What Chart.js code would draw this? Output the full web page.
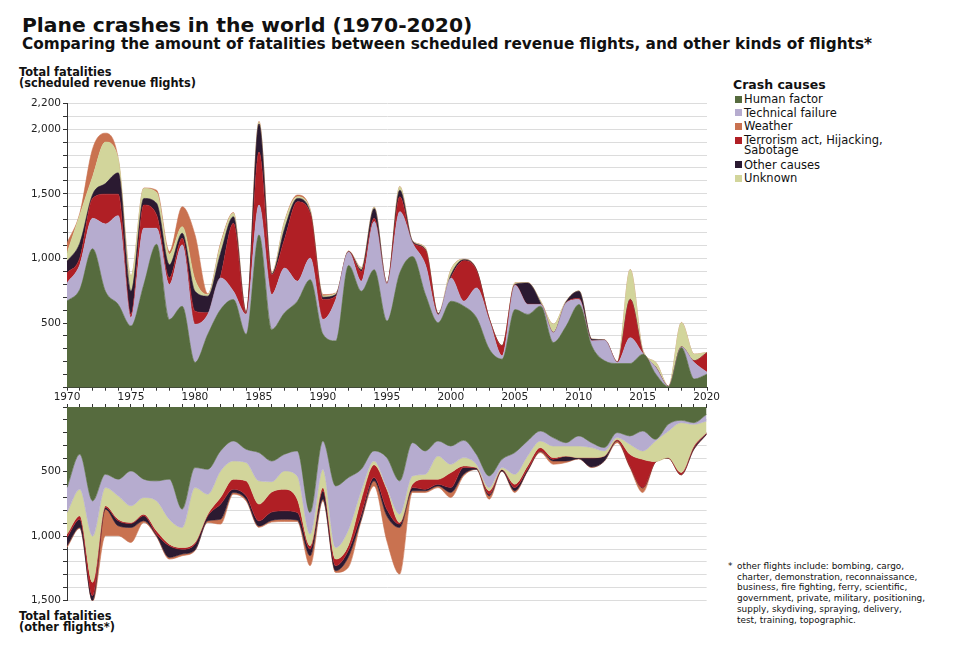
<!DOCTYPE html>
<html><head><meta charset="utf-8">
<script src="https://cdn.jsdelivr.net/npm/chart.js@4.4.0/dist/chart.umd.min.js"></script>
<style>
body{margin:0;background:#fff;width:960px;height:655px;position:relative;overflow:hidden;font-family:"DejaVu Sans",sans-serif;color:#111}
.t{position:absolute;white-space:nowrap}
.b{font-weight:bold}
.cv{position:absolute;left:0}
.lg{position:absolute;left:733px;font-size:11.5px;line-height:10px}
.lg .sw{position:absolute;left:2px;width:7px;height:7px}
.lg .tx{position:absolute;left:11px;white-space:nowrap}
</style></head><body>
<div class="t b" style="left:22px;top:13px;font-size:20.3px">Plane crashes in the world (1970-2020)</div>
<div class="t b" style="left:22px;top:35px;font-size:15.3px">Comparing the amount of fatalities between scheduled revenue flights, and other kinds of flights*</div>
<div class="t b" style="left:19px;top:67px;font-size:11.4px;line-height:11px">Total fatalities<br>(scheduled revenue flights)</div>
<div class="t b" style="left:19px;top:611px;font-size:11.4px;line-height:11px">Total fatalities<br>(other flights*)</div>
<div class="t b" style="left:733px;top:77px;font-size:12.5px">Crash causes</div>
<div id="legend"></div>
<div class="t" style="left:728px;top:561px;font-size:8.9px;line-height:10.7px">*</div>
<div class="t" style="left:737px;top:561px;font-size:8.9px;line-height:10.7px">other flights include: bombing, cargo,<br>charter, demonstration, reconnaissance,<br>business, fire fighting, ferry, scientific,<br>government, private, military, positioning,<br>supply, skydiving, spraying, delivery,<br>test, training, topographic.</div>
<div class="cv" style="top:95px"><canvas id="c1" width="720" height="301"></canvas></div>
<div class="cv" style="top:391px"><canvas id="c2" width="720" height="218"></canvas></div>
<script>
const years = [1970,1971,1972,1973,1974,1975,1976,1977,1978,1979,1980,1981,1982,1983,1984,1985,1986,1987,1988,1989,1990,1991,1992,1993,1994,1995,1996,1997,1998,1999,2000,2001,2002,2003,2004,2005,2006,2007,2008,2009,2010,2011,2012,2013,2014,2015,2016,2017,2018,2019,2020];

const causes = ['Human factor','Technical failure','Weather','Terrorism act, Hijacking, Sabotage','Other causes','Unknown'];
const causeColors = ['#566b3e','#b6accf','#c97250','#b01f25','#2b1a31','#d2d59b'];

// Scheduled revenue flights (fatalities per year)
const schedHuman   = [669,760,1075,746,644,477,797,1110,528,630, 195,413,605,682,413,1182,451,580,669,836, 413,362,946,746,913,515,887,1015,721,503, 669,631,541,297,221,605,567,631,349,477, 644,323,208,187,187,259,105,8,310,67, 105];
const schedTech    = [141,191,235,521,687,64,436,123,269,475, 295,154,244,64,154,231,269,345,154,167, 115,320,103,77,372,288,475,103,230,59, 180,38,231,218,25,187,77,13,77,179, 38,39,159,8,200,5,51,2,5,128, 15];
const schedTerror  = [77,52,154,230,166,26,180,103,52,51, 102,13,13,526,8,410,154,225,615,346, 154,26,3,77,25,2,115,2,116,2, 2,313,133,13,77,5,2,1,1,1, 8,1,1,2,295,2,1,0,1,13, 150];
const schedOther   = [90,115,31,82,165,179,51,90,102,39, 154,128,179,51,5,218,6,80,26,8, 18,12,2,13,77,1,51,11,3,8, 23,8,5,2,2,3,164,11,1,7, 56,11,1,1,2,1,1,0,1,1, 1];
const schedUnknown = [64,218,136,321,110,116,77,84,82,51, 90,12,64,26,3,13,7,55,13,17, 10,8,2,13,8,1,26,3,10,2, 39,2,2,2,2,10,2,13,62,6, 2,2,1,2,229,18,37,2,186,50, 1];
const schedWeather = [77,13,218,69,0,0,4,18,21,154, 346,6,13,6,2,6,3,5,13,6, 10,5,2,4,3,1,3,2,3,1, 2,2,1,1,1,2,1,1,1,1, 1,1,1,1,2,1,1,0,2,1, 1];

// Other flights (fatalities per year)
const otherHuman   = [624,366,727,521,559,495,559,572,559,791, 469,482,340,263,327,353,418,366,340,817, 263,611,546,482,340,392,572,276,340,263, 302,258,366,534,405,353,263,186,237,276, 224,276,314,198,224,186,250,134,103,121, 57];
const otherTech    = [193,271,273,103,129,270,142,155,310,142, 155,193,155,155,103,219,160,129,194,168, 219,477,404,167,78,232,258,258,181,116, 141,134,77,90,64,168,116,77,65,26, 78,38,26,39,65,154,13,52,18,13, 51];
const otherUnknown = [168,206,358,141,181,129,129,232,193,155, 425,155,206,141,142,180,80,142,180,90, 142,90,120,65,30,13,64,64,38,180, 65,64,26,25,13,77,77,51,90,77, 90,78,39,13,77,65,160,206,387,168, 90];
const otherTerror  = [25,26,103,13,12,8,13,26,13,13, 13,13,52,78,116,130,155,167,103,26, 25,51,40,116,98,154,13,26,78,39, 116,13,3,26,3,26,26,26,13,2, 1,2,2,8,90,219,2,2,15,12, 3];
const otherOther   = [65,64,39,13,39,31,38,12,90,38, 46,38,116,25,26,40,65,65,59,51, 65,39,50,39,26,52,26,25,12,13, 38,52,10,13,10,25,13,3,13,37, 7,70,37,4,2,3,1,2,2,13, 10];
const otherWeather = [13,7,5,206,77,116,13,8,13,13, 5,13,38,13,13,10,13,18,11,77, 13,13,80,12,39,193,361,13,13,13, 39,13,2,26,2,13,3,10,25,12, 2,5,2,14,11,35,2,2,2,2, 1];

const topTicks = [500,1000,1500,2000,2200];
const bottomTicks = [500,1000,1500];

// legend (HTML)
const lgTops = [93,106.5,120,134,158.5,172];
const lg = document.getElementById('legend');
causes.forEach((c,i)=>{
  const d=document.createElement('div');d.className='lg';d.style.top=lgTops[i]+'px';
  const lines=c==='Terrorism act, Hijacking, Sabotage'?'Terrorism act, Hijacking,<br>Sabotage':c;
  d.innerHTML='<div class="sw" style="top:2.5px;background:'+causeColors[i]+'"></div><div class="tx" style="top:1px">'+lines+'</div>';
  lg.appendChild(d);
});

function ds(label,data,color,first){
  return {label,data,backgroundColor:color,borderColor:color,borderWidth:0.6,fill:first?'origin':'-1',
    pointRadius:0,pointHoverRadius:0,cubicInterpolationMode:'monotone'};
}
const fontTick={family:'"DejaVu Sans"',size:10.5};
function yAxis(max,reverse,labels){
  return {type:'linear',min:0,max:max,reverse:reverse,stacked:true,
    afterFit:s=>{s.width=67;},
    border:{display:true,color:'#333',width:1},
    grid:{color:'#dcdcdc',lineWidth:1,tickColor:'#333',tickLength:4,drawTicks:true},
    ticks:{stepSize:100,autoSkip:false,padding:2,color:'#222',font:fontTick,
      callback:v=>labels.includes(v)?v.toLocaleString('en-US'):''}};
}
const common={responsive:false,animation:false,
  plugins:{legend:{display:false},tooltip:{enabled:false}},
  elements:{line:{tension:0.4}}};

new Chart(document.getElementById('c1'),{type:'line',
  data:{labels:years,datasets:[
    ds(causes[0],schedHuman,causeColors[0],true),
    ds(causes[1],schedTech,causeColors[1]),
    ds(causes[3],schedTerror,causeColors[3]),
    ds(causes[4],schedOther,causeColors[4]),
    ds(causes[5],schedUnknown,causeColors[5]),
    ds(causes[2],schedWeather,causeColors[2])]},
  options:Object.assign({},common,{
    layout:{padding:{top:6,right:13,left:0,bottom:0}},
    scales:{
      x:{type:'category',offset:false,afterFit:s=>{s.height=3;},
        border:{display:true,color:'#333',width:1},
        grid:{drawOnChartArea:false,drawTicks:true,tickLength:3,tickColor:'#333'},
        ticks:{display:false,autoSkip:false}},
      y:yAxis(2200,false,topTicks)}})});

new Chart(document.getElementById('c2'),{type:'line',
  data:{labels:years,datasets:[
    ds(causes[0],otherHuman,causeColors[0],true),
    ds(causes[1],otherTech,causeColors[1]),
    ds(causes[5],otherUnknown,causeColors[5]),
    ds(causes[3],otherTerror,causeColors[3]),
    ds(causes[4],otherOther,causeColors[4]),
    ds(causes[2],otherWeather,causeColors[2])]},
  options:Object.assign({},common,{
    layout:{padding:{top:0,right:13,left:0,bottom:8}},
    scales:{
      x:{type:'category',position:'top',offset:false,afterFit:s=>{s.height=16;},
        border:{display:true,color:'#333',width:1},
        grid:{drawOnChartArea:false,drawTicks:true,tickLength:3,tickColor:'#333'},
        ticks:{autoSkip:false,maxRotation:0,padding:0,color:'#222',font:fontTick,
          callback:(v,i)=>years[i]%5===0?String(years[i]):''}},
      y:yAxis(1500,true,bottomTicks)}})});
</script>
</body></html>
